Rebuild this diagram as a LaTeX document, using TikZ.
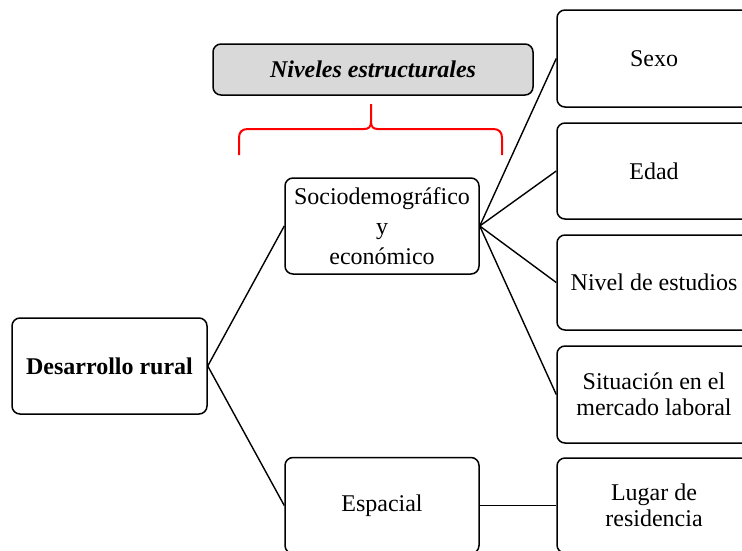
\documentclass[tikz,border=0pt]{standalone}
\usepackage{fontspec}
\setmainfont{Liberation Serif}
\definecolor{boxgray}{HTML}{D9D9D9}
\definecolor{bracered}{HTML}{FF0000}
\begin{document}
\begin{tikzpicture}[x=1pt,y=-1pt,
  box/.style={draw=black, line width=1.5pt, rounded corners=8pt, align=center,
    inner sep=0pt, font=\fontsize{24}{26}\selectfont},
  leftbox/.style={box, minimum width=194pt, minimum height=96pt},
  rightbox/.style={box, minimum width=194pt, minimum height=96pt},
  link/.style={draw=black, line width=1.4pt},
  bracestyle/.style={draw=bracered, line width=2pt}]
\useasboundingbox (0,0) rectangle (742,550);

\node[leftbox, minimum width=195pt] (desa) at (109.5,366) {\textbf{Desarrollo rural}};
\node[leftbox, font=\fontsize{24}{30}\selectfont] (socio) at (382,226) {Sociodemográfico\\y\\económico};
\node[leftbox] (esp) at (382,505.5) {Espacial};

\node[box, fill=boxgray, minimum width=320pt, minimum height=51pt] (niv) at (373,69.5) {\textbf{\textit{Niveles estructurales}}};

\node[rightbox, minimum height=97pt] (sexo) at (654,58.5) {Sexo};
\node[rightbox] (edad) at (654,171) {Edad};
\node[rightbox, minimum height=95pt] (estud) at (654,282.5) {Nivel de estudios};
\node[rightbox, minimum height=97pt] (sit) at (654,394.5) {Situación en el\\mercado laboral};
\node[rightbox, minimum height=95pt] (lugar) at (654,505.5) {Lugar de\\residencia};

\draw[link] (desa.east) -- (socio.west);
\draw[link] (desa.east) -- (esp.west);
\draw[link] (socio.east) -- (sexo.west);
\draw[link] (socio.east) -- (edad.west);
\draw[link] (socio.east) -- (estud.west);
\draw[link] (socio.east) -- (sit.west);
\draw[link] (esp.east) -- (lugar.west);

\draw[bracestyle] (239,155) -- (239,138) .. controls (239,132) and (242,129) .. (248,129)
  -- (364,129) .. controls (369,129) and (371,127) .. (371,121) -- (371,104);
\draw[bracestyle] (371,121) .. controls (371,127) and (373,129) .. (378,129)
  -- (493,129) .. controls (499,129) and (502,132) .. (502,138) -- (502,155);
\end{tikzpicture}
\end{document}
